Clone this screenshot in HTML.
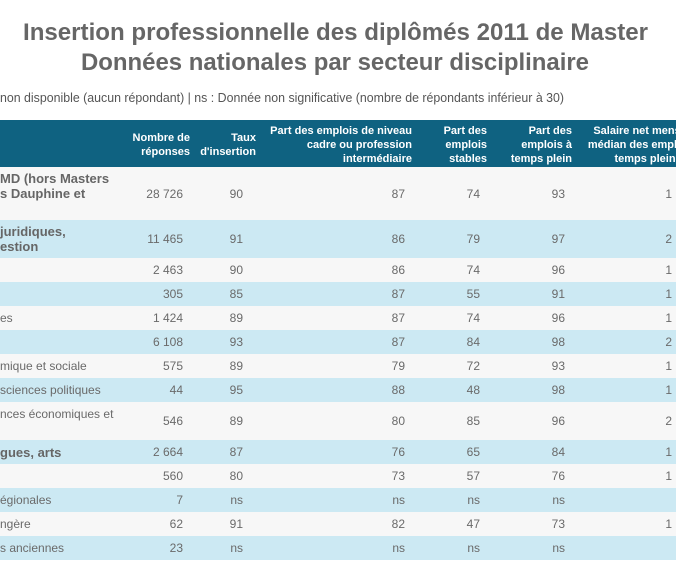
<!DOCTYPE html>
<html><head><meta charset="utf-8"><style>
body{margin:0;width:676px;height:561px;overflow:hidden;background:#fff;font-family:"Liberation Sans",Arial,sans-serif;position:relative}
.r{position:absolute;left:0;width:676px}
.c{position:absolute;font-size:12px;color:#6a6a6a;text-align:right;white-space:nowrap}
.l{position:absolute;left:0;font-size:12px;color:#6a6a6a;white-space:nowrap;line-height:14px}
.b{font-weight:bold;font-size:13px;line-height:15px;color:#666}
.h{position:absolute;color:#fff;font-weight:bold;font-size:11px;line-height:14px;text-align:right;white-space:nowrap}
</style></head><body>
<svg width="676" height="110" style="position:absolute;left:0;top:0">
<text x="23" y="40" textLength="625" lengthAdjust="spacingAndGlyphs" font-family="Liberation Sans" font-weight="bold" font-size="24" fill="#666">Insertion professionnelle des diplômés 2011 de Master</text>
<text x="81" y="70" textLength="508" lengthAdjust="spacingAndGlyphs" font-family="Liberation Sans" font-weight="bold" font-size="24" fill="#666">Données nationales par secteur disciplinaire</text>
<text x="0" y="102" textLength="564" lengthAdjust="spacingAndGlyphs" font-family="Liberation Sans" font-size="12.5" fill="#555">non disponible (aucun répondant) | ns : Donnée non significative (nombre de répondants inférieur à 30)</text>
</svg>
<div class="r" style="top:120px;height:47px;background:#0f6281;overflow:hidden">
<div class="h" style="right:486px;top:11px">Nombre de<br>réponses</div>
<div class="h" style="right:420px;top:11px">Taux<br>d'insertion</div>
<div class="h" style="right:264px;top:4px">Part des emplois de niveau<br>cadre ou profession<br>intermédiaire</div>
<div class="h" style="right:189px;top:4px">Part des<br>emplois<br>stables</div>
<div class="h" style="right:104px;top:4px">Part des<br>emplois à<br>temps plein</div>
<div class="h" style="left:565px;top:4px;text-align:center;width:160px">Salaire net mensuel<br>médian des emplois à<br>temps plein</div>
</div>
<div id="t"></div>
<script>
var rows=[
[167,53,'#f7f7f7','MD (hors Masters<br>s Dauphine et',1,'28 726','90','87','74','93','1'],
[220,38,'#cce9f3','juridiques,<br>estion',1,'11 465','91','86','79','97','2'],
[258,24,'#f7f7f7','',0,'2 463','90','86','74','96','1'],
[282,24,'#cce9f3','',0,'305','85','87','55','91','1'],
[306,24,'#f7f7f7','es',0,'1 424','89','87','74','96','1'],
[330,24,'#cce9f3','',0,'6 108','93','87','84','98','2'],
[354,24,'#f7f7f7','mique et sociale',0,'575','89','79','72','93','1'],
[378,24,'#cce9f3',' sciences politiques',0,'44','95','88','48','98','1'],
[402,38,'#f7f7f7','nces économiques et',0,'546','89','80','85','96','2'],
[440,24,'#cce9f3','gues, arts',1,'2 664','87','76','65','84','1'],
[464,24,'#f7f7f7','',0,'560','80','73','57','76','1'],
[488,24,'#cce9f3','égionales',0,'7','ns','ns','ns','ns',''],
[512,24,'#f7f7f7','ngère',0,'62','91','82','47','73','1'],
[536,24,'#cce9f3','s anciennes',0,'23','ns','ns','ns','ns','']];
var rt=[493,433,271,196,111,4],h='';
rows.forEach(function(r){
var y=r[0],hh=r[1];
h+='<div class="r" style="top:'+y+'px;height:'+hh+'px;background:'+r[2]+'"></div>';
var lh=r[4]?15:14,n=(r[3].match(/<br>/g)||[]).length+1;
var ly=y+(r[1]-lh*n)/2 - (y==167?8:0) - (y==402?7:0);
h+='<div class="l'+(r[4]?' b':'')+'" style="top:'+ly+'px">'+r[3]+'</div>';
for(var i=0;i<6;i++){h+='<div class="c" style="right:'+rt[i]+'px;top:'+(y+hh/2-7)+'px">'+r[5+i]+'</div>';}
});
document.getElementById('t').innerHTML=h;
</script>
</body></html>
